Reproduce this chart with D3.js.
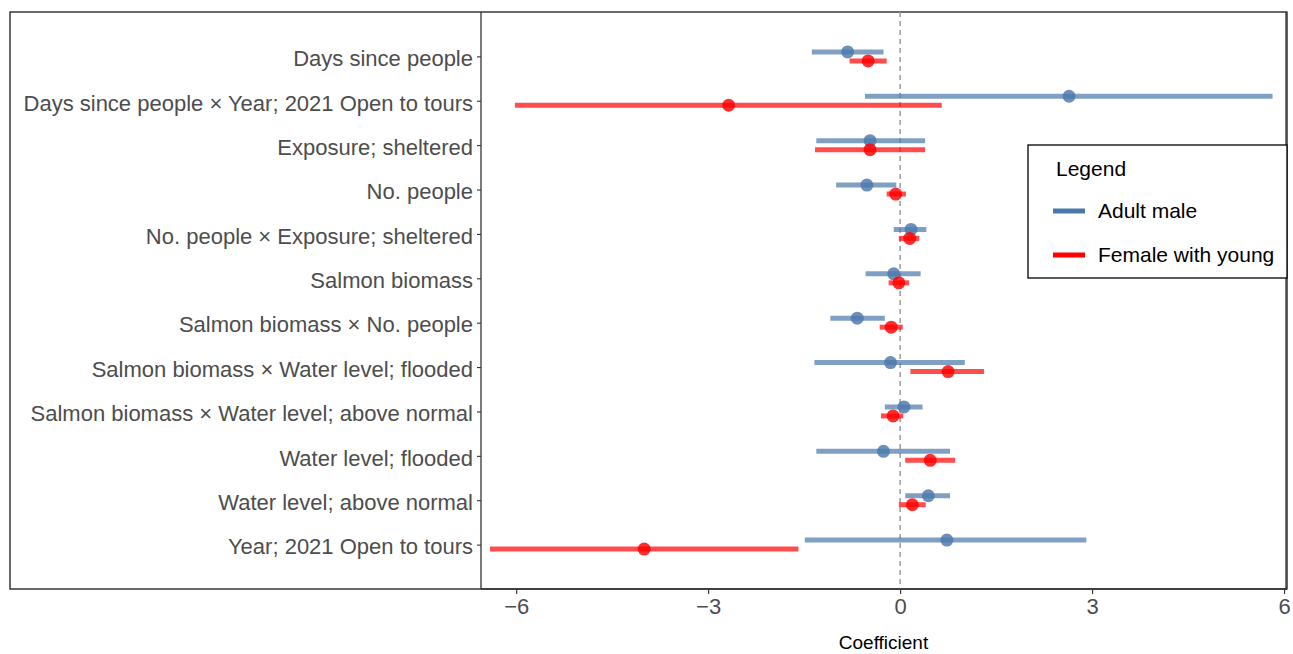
<!DOCTYPE html>
<html>
<head>
<meta charset="utf-8">
<script src="https://cdn.jsdelivr.net/npm/d3@7"></script>
<style>
  html, body { margin: 0; padding: 0; background: #fff; }
  svg { display: block; font-family: "Liberation Sans", Arial, sans-serif; }
</style>
</head>
<body>
<div id="chart"></div>
<script>
// Terms, top to bottom
const terms = [
  'Days since people',
  'Days since people \u00D7 Year; 2021 Open to tours',
  'Exposure; sheltered',
  'No. people',
  'No. people \u00D7 Exposure; sheltered',
  'Salmon biomass',
  'Salmon biomass \u00D7 No. people',
  'Salmon biomass \u00D7 Water level; flooded',
  'Salmon biomass \u00D7 Water level; above normal',
  'Water level; flooded',
  'Water level; above normal',
  'Year; 2021 Open to tours'
];

// Adult male: estimate, lower, upper
const maleEst  = [-0.82, 2.64, -0.47, -0.52, 0.17, -0.10, -0.67, -0.15, 0.06, -0.26, 0.44, 0.73];
const maleLow  = [-1.38, -0.55, -1.31, -1.00, -0.10, -0.54, -1.09, -1.34, -0.24, -1.31, 0.08, -1.49];
const maleHigh = [-0.26, 5.82, 0.39, -0.06, 0.41, 0.32, -0.24, 1.01, 0.35, 0.78, 0.78, 2.91];

// Female with young: estimate, lower, upper
const femEst  = [-0.50, -2.68, -0.47, -0.07, 0.15, -0.02, -0.14, 0.75, -0.11, 0.47, 0.19, -4.00];
const femLow  = [-0.79, -6.02, -1.33, -0.21, -0.02, -0.18, -0.32, 0.16, -0.30, 0.08, -0.02, -6.41];
const femHigh = [-0.21, 0.65, 0.39, 0.09, 0.30, 0.14, 0.04, 1.31, 0.05, 0.86, 0.40, -1.59];

const xTicks = [-6, -3, 0, 3, 6];
const seriesNames = ['Adult male', 'Female with young'];

const W = 1293, H = 654;
const panel = { left: 481, right: 1286, top: 12, bottom: 589 };
const font = '"Liberation Sans", Arial, sans-serif';

const svg = d3.select('#chart').append('svg')
  .attr('width', W).attr('height', H)
  .attr('viewBox', `0 0 ${W} ${H}`);

const x = d3.scaleLinear().domain([-6.55, 6.03]).range([panel.left, panel.right]);
const y = d3.scaleLinear().domain([0, terms.length + 1]).range([panel.top, panel.bottom]);

const series = [
  { name: seriesNames[0], color: '#4A78AA', est: maleEst, low: maleLow, high: maleHigh, dy: -4.5 },
  { name: seriesNames[1], color: '#FF0000', est: femEst, low: femLow, high: femHigh, dy: 4.5 }
];

// outer box (covers labels + panel)
svg.append('rect')
  .attr('x', 10).attr('y', panel.top)
  .attr('width', panel.right + 1 - 10).attr('height', panel.bottom - panel.top)
  .attr('fill', 'none').attr('stroke', '#1a1a1a').attr('stroke-width', 1.3);

// zero reference line
svg.append('line')
  .attr('x1', x(0)).attr('x2', x(0))
  .attr('y1', panel.top).attr('y2', panel.bottom)
  .attr('stroke', '#9a9a9a').attr('stroke-width', 1.5)
  .attr('stroke-dasharray', '5,4');

// intervals and points
series.forEach(s => {
  const g = svg.append('g').attr('class', 'series');
  g.selectAll('line.ci')
    .data(terms)
    .join('line')
    .attr('class', 'ci')
    .attr('x1', (d, i) => x(s.low[i]))
    .attr('x2', (d, i) => x(s.high[i]))
    .attr('y1', (d, i) => y(i + 1) + s.dy)
    .attr('y2', (d, i) => y(i + 1) + s.dy)
    .attr('stroke', s.color).attr('stroke-opacity', 0.7)
    .attr('stroke-width', 5);
  g.selectAll('circle.pt')
    .data(terms)
    .join('circle')
    .attr('class', 'pt')
    .attr('cx', (d, i) => x(s.est[i]))
    .attr('cy', (d, i) => y(i + 1) + s.dy)
    .attr('r', 6.5)
    .attr('fill', s.color).attr('fill-opacity', 0.82);
});

// y axis (labels)
svg.append('g')
  .attr('transform', `translate(${panel.left},0)`)
  .call(d3.axisLeft(y).tickValues(terms.map((d, i) => i + 1)).tickFormat(v => terms[v - 1]).tickSize(4).tickPadding(4))
  .call(g => {
    g.select('.domain').attr('d', `M0,${panel.top}V${panel.bottom}`).style('stroke', '#333').style('stroke-width', 1.3);
    g.selectAll('line').style('stroke', '#333').style('stroke-width', 1.1);
    g.selectAll('text').attr('dy', '0.42em')
      .style('fill', '#4d4d4d').style('font-size', '22px').style('font-family', font);
  });

// x axis
svg.append('g')
  .attr('transform', `translate(0,${panel.bottom})`)
  .call(d3.axisBottom(x).tickValues(xTicks).tickFormat(v => v < 0 ? '\u2212' + Math.abs(v) : v).tickSize(5).tickPadding(4))
  .call(g => {
    g.select('.domain').attr('d', `M${panel.left},0H${panel.right + 1}`).style('stroke', '#333').style('stroke-width', 1.3);
    g.selectAll('line').style('stroke', '#333').style('stroke-width', 1.1);
    g.selectAll('text').style('fill', '#4d4d4d').style('font-size', '22px').style('font-family', font);
  });

// right panel edge
svg.append('line')
  .attr('x1', panel.right).attr('x2', panel.right)
  .attr('y1', panel.top).attr('y2', panel.bottom)
  .attr('stroke', '#333').attr('stroke-width', 1.3);

// x axis title
svg.append('text')
  .attr('x', (panel.left + panel.right) / 2).attr('y', 649)
  .attr('text-anchor', 'middle')
  .style('font-size', '19px').style('font-family', font).style('fill', '#000')
  .text('Coefficient');

// legend
const lg = svg.append('g').attr('transform', 'translate(1028,145)');
lg.append('rect')
  .attr('width', 259).attr('height', 133)
  .attr('fill', '#fff').attr('stroke', '#000').attr('stroke-width', 1.3);
lg.append('text')
  .attr('x', 28).attr('y', 31)
  .style('font-size', '21px').style('font-family', font).style('fill', '#000')
  .text('Legend');
series.forEach((s, i) => {
  const ky = 66 + i * 44;
  lg.append('line')
    .attr('x1', 25).attr('x2', 57).attr('y1', ky).attr('y2', ky)
    .attr('stroke', s.color).attr('stroke-width', 5);
  lg.append('text')
    .attr('x', 70).attr('y', ky + 7)
    .style('font-size', '21px').style('font-family', font).style('fill', '#000')
    .text(s.name);
});
</script>
</body>
</html>
